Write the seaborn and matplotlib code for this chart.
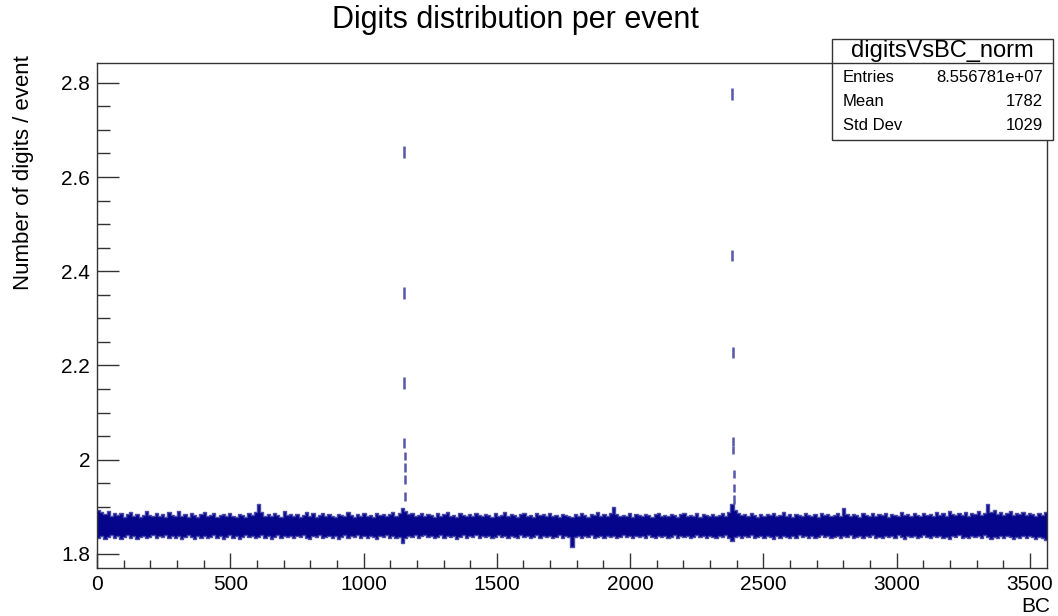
import matplotlib
matplotlib.use("Agg")
import matplotlib.pyplot as plt
import matplotlib.patches as mpatches
from matplotlib.ticker import MultipleLocator
import numpy as np
import seaborn as sns

# ---- data ----
n_bc = 3564
bin_width = 12  # BC per drawn bin of the band

# upper edge of the dense band, one value per 12 BC
band_hi = [
    1.893, 1.889, 1.884, 1.891, 1.880, 1.886, 1.882, 1.887, 1.879, 1.884, 1.889, 1.881, 1.885, 1.878, 1.883, 1.890, 1.882, 1.880, 1.886, 1.881,
    1.884, 1.879, 1.888, 1.883, 1.880, 1.892, 1.881, 1.885, 1.879, 1.887, 1.882, 1.878, 1.884, 1.889, 1.880, 1.883, 1.886, 1.879, 1.882, 1.885,
    1.880, 1.887, 1.881, 1.878, 1.884, 1.882, 1.879, 1.886, 1.883, 1.888, 1.905, 1.889, 1.881, 1.885, 1.880, 1.887, 1.883, 1.879, 1.891, 1.882,
    1.885, 1.880, 1.884, 1.878, 1.883, 1.889, 1.881, 1.886, 1.879, 1.882, 1.887, 1.880, 1.884, 1.881, 1.878, 1.885, 1.883, 1.880, 1.888, 1.882,
    1.879, 1.884, 1.881, 1.886, 1.880, 1.883, 1.878, 1.887, 1.882, 1.885, 1.880, 1.884, 1.889, 1.881, 1.886, 1.898, 1.890, 1.884, 1.887, 1.881,
    1.883, 1.886, 1.880, 1.885, 1.882, 1.879, 1.887, 1.881, 1.884, 1.888, 1.880, 1.883, 1.878, 1.886, 1.882, 1.880, 1.885, 1.881, 1.887, 1.883,
    1.880, 1.884, 1.882, 1.879, 1.886, 1.881, 1.883, 1.888, 1.880, 1.885, 1.882, 1.878, 1.884, 1.887, 1.881, 1.883, 1.879, 1.886, 1.882, 1.884,
    1.881, 1.887, 1.880, 1.883, 1.879, 1.885, 1.882, 1.880, 1.878, 1.884, 1.881, 1.886, 1.883, 1.879, 1.885, 1.882, 1.888, 1.880, 1.884, 1.881,
    1.886, 1.900, 1.884, 1.880, 1.883, 1.881, 1.886, 1.879, 1.884, 1.882, 1.880, 1.885, 1.883, 1.878, 1.884, 1.887, 1.881, 1.883, 1.880, 1.885,
    1.882, 1.879, 1.884, 1.886, 1.880, 1.883, 1.881, 1.887, 1.879, 1.884, 1.882, 1.880, 1.885, 1.881, 1.883, 1.886, 1.880, 1.888, 1.905, 1.893,
    1.886, 1.882, 1.884, 1.880, 1.887, 1.883, 1.879, 1.885, 1.881, 1.884, 1.882, 1.886, 1.880, 1.883, 1.889, 1.881, 1.885, 1.879, 1.884, 1.882,
    1.880, 1.886, 1.883, 1.881, 1.885, 1.879, 1.887, 1.882, 1.884, 1.880, 1.883, 1.886, 1.881, 1.898, 1.884, 1.880, 1.885, 1.882, 1.879, 1.886,
    1.883, 1.881, 1.887, 1.880, 1.884, 1.882, 1.886, 1.879, 1.885, 1.883, 1.880, 1.888, 1.882, 1.884, 1.881, 1.886, 1.883, 1.880, 1.887, 1.882,
    1.885, 1.881, 1.889, 1.883, 1.886, 1.880, 1.891, 1.884, 1.882, 1.887, 1.883, 1.889, 1.881, 1.886, 1.884, 1.890, 1.882, 1.887, 1.905, 1.889,
    1.893, 1.884, 1.888, 1.882, 1.886, 1.891, 1.883, 1.887, 1.884, 1.889, 1.882, 1.886, 1.884, 1.881, 1.887, 1.883, 1.888,
]

# lower edge of the dense band, one value per 12 BC
band_lo = [
    1.833, 1.837, 1.831, 1.836, 1.840, 1.834, 1.838, 1.832, 1.836, 1.839, 1.834, 1.837, 1.831, 1.835, 1.838, 1.833, 1.836, 1.840, 1.834, 1.837,
    1.835, 1.839, 1.833, 1.837, 1.834, 1.838, 1.832, 1.836, 1.839, 1.835, 1.831, 1.837, 1.834, 1.838, 1.833, 1.836, 1.840, 1.834, 1.837, 1.832,
    1.836, 1.839, 1.834, 1.838, 1.832, 1.836, 1.840, 1.835, 1.837, 1.833, 1.836, 1.839, 1.834, 1.838, 1.831, 1.836, 1.839, 1.834, 1.837, 1.835,
    1.838, 1.833, 1.837, 1.835, 1.839, 1.834, 1.832, 1.837, 1.835, 1.839, 1.833, 1.836, 1.838, 1.834, 1.837, 1.831, 1.836, 1.839, 1.834, 1.837,
    1.835, 1.839, 1.833, 1.837, 1.834, 1.838, 1.836, 1.832, 1.837, 1.835, 1.839, 1.834, 1.837, 1.833, 1.836, 1.824, 1.833, 1.838, 1.835, 1.839,
    1.834, 1.837, 1.840, 1.835, 1.838, 1.833, 1.836, 1.839, 1.834, 1.837, 1.835, 1.838, 1.832, 1.836, 1.839, 1.834, 1.837, 1.835, 1.839, 1.833,
    1.837, 1.835, 1.838, 1.834, 1.836, 1.840, 1.835, 1.837, 1.833, 1.838, 1.836, 1.834, 1.839, 1.835, 1.837, 1.833, 1.836, 1.839, 1.834, 1.837,
    1.835, 1.838, 1.834, 1.836, 1.839, 1.833, 1.837, 1.835, 1.815, 1.836, 1.838, 1.834, 1.837, 1.835, 1.839, 1.834, 1.836, 1.838, 1.833, 1.837,
    1.835, 1.838, 1.834, 1.836, 1.839, 1.835, 1.837, 1.833, 1.838, 1.835, 1.837, 1.834, 1.839, 1.836, 1.834, 1.838, 1.835, 1.837, 1.833, 1.836,
    1.839, 1.834, 1.837, 1.835, 1.838, 1.833, 1.836, 1.839, 1.835, 1.837, 1.834, 1.838, 1.836, 1.833, 1.837, 1.835, 1.839, 1.834, 1.828, 1.835,
    1.838, 1.834, 1.837, 1.835, 1.839, 1.833, 1.836, 1.838, 1.834, 1.837, 1.835, 1.832, 1.837, 1.834, 1.838, 1.835, 1.833, 1.837, 1.834, 1.839,
    1.835, 1.837, 1.833, 1.838, 1.834, 1.836, 1.839, 1.835, 1.837, 1.833, 1.836, 1.838, 1.834, 1.837, 1.835, 1.839, 1.833, 1.836, 1.838, 1.834,
    1.837, 1.835, 1.839, 1.834, 1.836, 1.833, 1.838, 1.835, 1.837, 1.834, 1.839, 1.835, 1.832, 1.837, 1.835, 1.838, 1.834, 1.836, 1.839, 1.835,
    1.833, 1.837, 1.835, 1.838, 1.834, 1.836, 1.832, 1.837, 1.835, 1.839, 1.834, 1.836, 1.833, 1.838, 1.835, 1.837, 1.834, 1.839, 1.835, 1.832,
    1.836, 1.834, 1.838, 1.833, 1.837, 1.835, 1.831, 1.836, 1.834, 1.838, 1.833, 1.837, 1.835, 1.832, 1.836, 1.834, 1.830,
]

# single bins that stick out of the band (two bunch-crossing spikes)
spike1_bc = [1150, 1151, 1152, 1153, 1154, 1155, 1156, 1157]
spike1_val = [2.653, 2.354, 2.163, 2.035, 2.008, 1.983, 1.958, 1.922]
spike2_bc = [2383, 2384, 2385, 2386, 2387, 2388, 2389, 2390]
spike2_val = [2.776, 2.433, 2.227, 2.038, 2.020, 1.970, 1.940, 1.915]
spike_err = [0.012, 0.012, 0.012, 0.010, 0.009, 0.009, 0.009, 0.009]

stats_name = "digitsVsBC_norm"
stats_rows = [("Entries", "8.556781e+07"), ("Mean", "1782"), ("Std Dev", "1029")]

# ---- style ----
sns.set_theme(style="ticks")
plt.rcParams["font.family"] = ["Liberation Sans", "DejaVu Sans"]
plt.rcParams["text.color"] = "black"

W, H = 1058, 616
fig = plt.figure(figsize=(W / 100, H / 100), dpi=100)
ax = fig.add_axes([97 / W, 1 - 568 / H, (1047 - 97) / W, (568 - 63) / H])

navy = "#05058c"
edge_col = "#4a4aa8"

edges = np.arange(0, n_bc + bin_width, bin_width)
hi_ext = np.append(band_hi, band_hi[-1])
lo_ext = np.append(band_lo, band_lo[-1])

ax.fill_between(edges, lo_ext, hi_ext, step="post", color=navy, linewidth=0)
sns.lineplot(x=edges, y=hi_ext, drawstyle="steps-post", estimator=None,
             color=edge_col, linewidth=1.0, ax=ax)
sns.lineplot(x=edges, y=lo_ext, drawstyle="steps-post", estimator=None,
             color=edge_col, linewidth=1.0, ax=ax)

for bc, val in [(spike1_bc, spike1_val), (spike2_bc, spike2_val)]:
    ax.errorbar(bc, val, yerr=spike_err, fmt="none", ecolor="#5656ad",
                elinewidth=1.8, capsize=0)

ax.set_xlim(0, n_bc)
ax.set_ylim(1.77, 2.842)
ax.xaxis.set_major_locator(MultipleLocator(500))
ax.xaxis.set_minor_locator(MultipleLocator(100))
ax.yaxis.set_minor_locator(MultipleLocator(0.05))
ax.set_yticks([1.8, 2.0, 2.2, 2.4, 2.6, 2.8])
ax.set_yticklabels(["1.8", "2", "2.2", "2.4", "2.6", "2.8"])

ax.tick_params(axis="both", which="both", direction="in", colors="#333333",
               labelcolor="black", labelsize=15, top=False, right=False)
ax.tick_params(axis="x", which="major", length=11, width=1, pad=5)
ax.tick_params(axis="x", which="minor", length=6, width=1)
ax.tick_params(axis="y", which="major", length=16, width=1, pad=5)
ax.tick_params(axis="y", which="minor", length=9, width=1)
for s in ax.spines.values():
    s.set_color("#333333")
    s.set_linewidth(1)
ax.set_xlabel("")
ax.set_ylabel("")

# titles and axis labels placed like ROOT does
fig.text(515 / W, 1 - 20 / H, "Digits distribution per event",
         ha="center", va="center", fontsize=22, color="black")
fig.text(24 / W, 1 - 55 / H, "Number of digits / event", rotation=90,
         ha="center", va="top", fontsize=16, color="black")
fig.text(1050 / W, 1 - 607 / H, "BC", ha="right", va="center", fontsize=15,
         color="black")

# statistics box
bx0, bx1, by0, by1, bhead = 832, 1053, 39, 140, 63
fig.patches.append(mpatches.Rectangle((bx0 / W, 1 - by1 / H), (bx1 - bx0) / W,
                                      (by1 - by0) / H, transform=fig.transFigure,
                                      facecolor="white", edgecolor="#333333",
                                      linewidth=1, zorder=5))
fig.lines.append(plt.Line2D([bx0 / W, bx1 / W], [1 - bhead / H, 1 - bhead / H],
                            transform=fig.transFigure, color="#333333",
                            linewidth=1, zorder=6))
fig.text((bx0 + bx1) / 2 / W, 1 - 51 / H, stats_name, ha="center", va="center",
         fontsize=17, zorder=7, color="black")
for i, (lab, val) in enumerate(stats_rows):
    y = 1 - (78 + 23.5 * i) / H
    fig.text(843 / W, y, lab, ha="left", va="center", fontsize=12, zorder=7,
             color="black")
    fig.text(1043 / W, y, val, ha="right", va="center", fontsize=12, zorder=7,
             color="black")

fig.savefig("out.png", dpi=100, facecolor="white")
